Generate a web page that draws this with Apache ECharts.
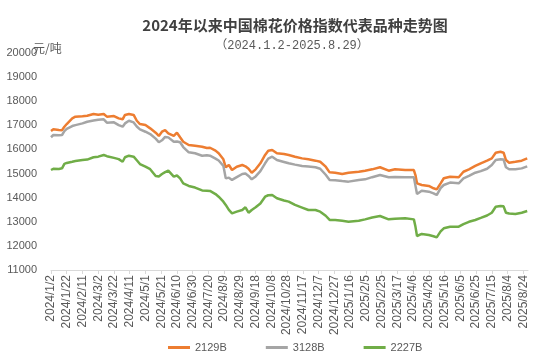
<!DOCTYPE html>
<html><head><meta charset="utf-8">
<script src="https://cdn.jsdelivr.net/npm/echarts@6/dist/echarts.min.js"></script>
<style>html,body{margin:0;padding:0;background:#fff}#c{width:554px;height:364px}</style>
</head><body><div id="c"></div>
<script>
const dates = [
'2024/1/2','2024/1/5','2024/1/12','2024/1/16','2024/1/19','2024/1/22','2024/1/29','2024/2/2','2024/2/11','2024/2/17',
'2024/2/25','2024/3/2','2024/3/9','2024/3/13','2024/3/22','2024/3/28','2024/4/2','2024/4/5','2024/4/10','2024/4/16',
'2024/4/20','2024/4/24','2024/5/1','2024/5/7','2024/5/14','2024/5/18','2024/5/22','2024/5/26','2024/5/30','2024/6/6',
'2024/6/10','2024/6/14','2024/6/18','2024/6/25','2024/7/3','2024/7/12','2024/7/18','2024/7/22','2024/7/29','2024/8/2',
'2024/8/8','2024/8/11','2024/8/15','2024/8/19','2024/8/25','2024/9/1','2024/9/5','2024/9/9','2024/9/13','2024/9/18',
'2024/9/24','2024/9/30','2024/10/4','2024/10/9','2024/10/15','2024/10/24','2024/10/30','2024/11/7','2024/11/16','2024/11/24',
'2024/12/3','2024/12/9','2024/12/16','2024/12/21','2024/12/28','2025/1/6','2025/1/14','2025/1/27','2025/2/4','2025/2/13',
'2025/2/23','2025/3/6','2025/3/14','2025/3/27','2025/4/7','2025/4/9','2025/4/11','2025/4/17','2025/4/26','2025/5/2',
'2025/5/6','2025/5/11','2025/5/15','2025/5/23','2025/6/3','2025/6/9','2025/6/16','2025/6/24','2025/7/1','2025/7/9',
'2025/7/15','2025/7/20','2025/7/26','2025/7/30','2025/8/2','2025/8/6','2025/8/14','2025/8/22','2025/8/29'
];
const s2129B = [
16765,16835,16810,16800,16943,17055,17290,17360,17380,17400,
17470,17440,17470,17360,17385,17290,17250,17430,17470,17430,
17190,17055,17010,16875,16695,16560,16735,16800,16670,16560,
16695,16505,16320,16185,16155,16115,16060,16070,15950,15840,
15590,15260,15355,15147,15285,15355,15300,15200,15035,15175,
15425,15770,15950,15975,15840,15810,15770,15700,15630,15590,
15535,15490,15285,15050,15035,14980,15035,15075,15120,15175,
15260,15120,15175,15147,15147,14940,14595,14525,14485,14390,
14345,14595,14805,14870,14845,15075,15175,15315,15425,15535,
15630,15865,15905,15865,15560,15450,15490,15535,15630
];
const s3128B = [
16505,16600,16590,16600,16760,16850,16970,17010,17080,17150,
17200,17230,17250,17110,17125,17010,16943,17080,17190,17120,
16950,16830,16735,16640,16450,16300,16380,16520,16500,16320,
16330,16300,16100,15880,15840,15740,15760,15740,15620,15540,
15320,14800,14830,14735,14850,14980,15000,14900,14760,14880,
15100,15425,15620,15700,15560,15480,15425,15370,15315,15290,
15260,15200,14950,14735,14720,14690,14665,14735,14760,14850,
14940,14845,14860,14850,14845,14500,14150,14290,14250,14180,
14110,14400,14525,14625,14595,14800,14900,15035,15100,15200,
15355,15560,15590,15580,15260,15180,15180,15215,15300
];
const s2227B = [
15147,15200,15190,15217,15400,15440,15490,15520,15560,15580,
15675,15700,15770,15720,15650,15600,15490,15675,15740,15700,
15550,15395,15285,15180,14900,14880,14980,15060,15120,14870,
14920,14800,14595,14485,14420,14300,14290,14280,14150,14040,
13835,13700,13490,13350,13420,13490,13600,13375,13490,13600,
13760,14040,14100,14110,13975,13880,13835,13700,13590,13490,
13490,13420,13250,13075,13075,13040,13005,13045,13100,13180,
13240,13100,13130,13145,13100,12800,12410,12495,12450,12400,
12355,12600,12730,12795,12795,12900,13000,13075,13160,13260,
13375,13625,13655,13640,13375,13340,13320,13375,13445
];
const xTickLabels = [
'2024/1/2','2024/1/22','2024/2/11','2024/3/2','2024/3/22','2024/4/11','2024/5/1','2024/5/21','2024/6/10','2024/6/30',
'2024/7/20','2024/8/9','2024/8/29','2024/9/18','2024/10/8','2024/10/28','2024/11/17','2024/12/7','2024/12/27','2025/1/16',
'2025/2/5','2025/2/25','2025/3/17','2025/4/6','2025/4/26','2025/5/16','2025/6/5','2025/6/25','2025/7/15','2025/8/4','2025/8/24'
];
const seriesNames = ['2129B','3128B','2227B'];
const colors = ['#ED7D31','#A5A5A5','#70AD47'];

const base = Date.UTC(2024,0,2);
function dayIndex(s){const p=s.split('/').map(Number);return Math.round((Date.UTC(p[0],p[1]-1,p[2])-base)/86400000);}
const labelMap = {};
xTickLabels.forEach(l=>{labelMap[dayIndex(l)]=l;});
const tickVals = xTickLabels.map(dayIndex);
const valueSets = [s2129B,s3128B,s2227B];

const chart = echarts.init(document.getElementById('c'), null, {renderer:'canvas'});
chart.setOption({
  animation:false,
  backgroundColor:'#fff',
  title:[
    {text:'2024年以来中国棉花价格指数代表品种走势图',left:290,textAlign:'center',top:13,
     textStyle:{fontSize:15,fontWeight:'bold',color:'#404040',fontFamily:'Noto Sans CJK SC'}},
    {text:'（2024.1.2-2025.8.29）',left:287,textAlign:'center',top:35,
     textStyle:{fontSize:12,fontWeight:'normal',color:'#595959',fontFamily:'Liberation Mono, Noto Sans CJK SC'}}
  ],
  graphic:[{type:'text',left:33,top:42,style:{text:'元/吨',fontSize:12,fill:'#595959',fontFamily:'Noto Sans CJK SC'}}],
  legend:{left:163,top:337,itemWidth:22,itemHeight:3,itemGap:39,icon:'rect',
    textStyle:{color:'#595959',fontSize:11,fontFamily:'Liberation Sans'},data:seriesNames},
  grid:{left:51,right:26,top:53,bottom:94},
  xAxis:{type:'value',min:0,max:606,interval:20,
    axisLine:{show:true,lineStyle:{color:'#D9D9D9'}},
    axisTick:{show:true,length:4,lineStyle:{color:'#D9D9D9'},customValues:tickVals},
    splitLine:{show:false},
    axisLabel:{rotate:90,color:'#595959',fontSize:12,margin:5,fontFamily:'Liberation Sans',
      customValues:tickVals,formatter:v=>labelMap[v]||''}},
  yAxis:{type:'value',min:11000,max:20000,interval:1000,
    axisLine:{show:false},axisTick:{show:false},splitLine:{show:false},
    axisLabel:{color:'#595959',fontSize:11,margin:14,fontFamily:'Liberation Sans',formatter:v=>String(v)}},
  series:seriesNames.map((n,i)=>({
    name:n,type:'line',showSymbol:false,symbol:'none',
    lineStyle:{width:2.5,color:colors[i]},itemStyle:{color:colors[i]},
    data:dates.map((d,j)=>[dayIndex(d),valueSets[i][j]])
  }))
});
</script></body></html>
